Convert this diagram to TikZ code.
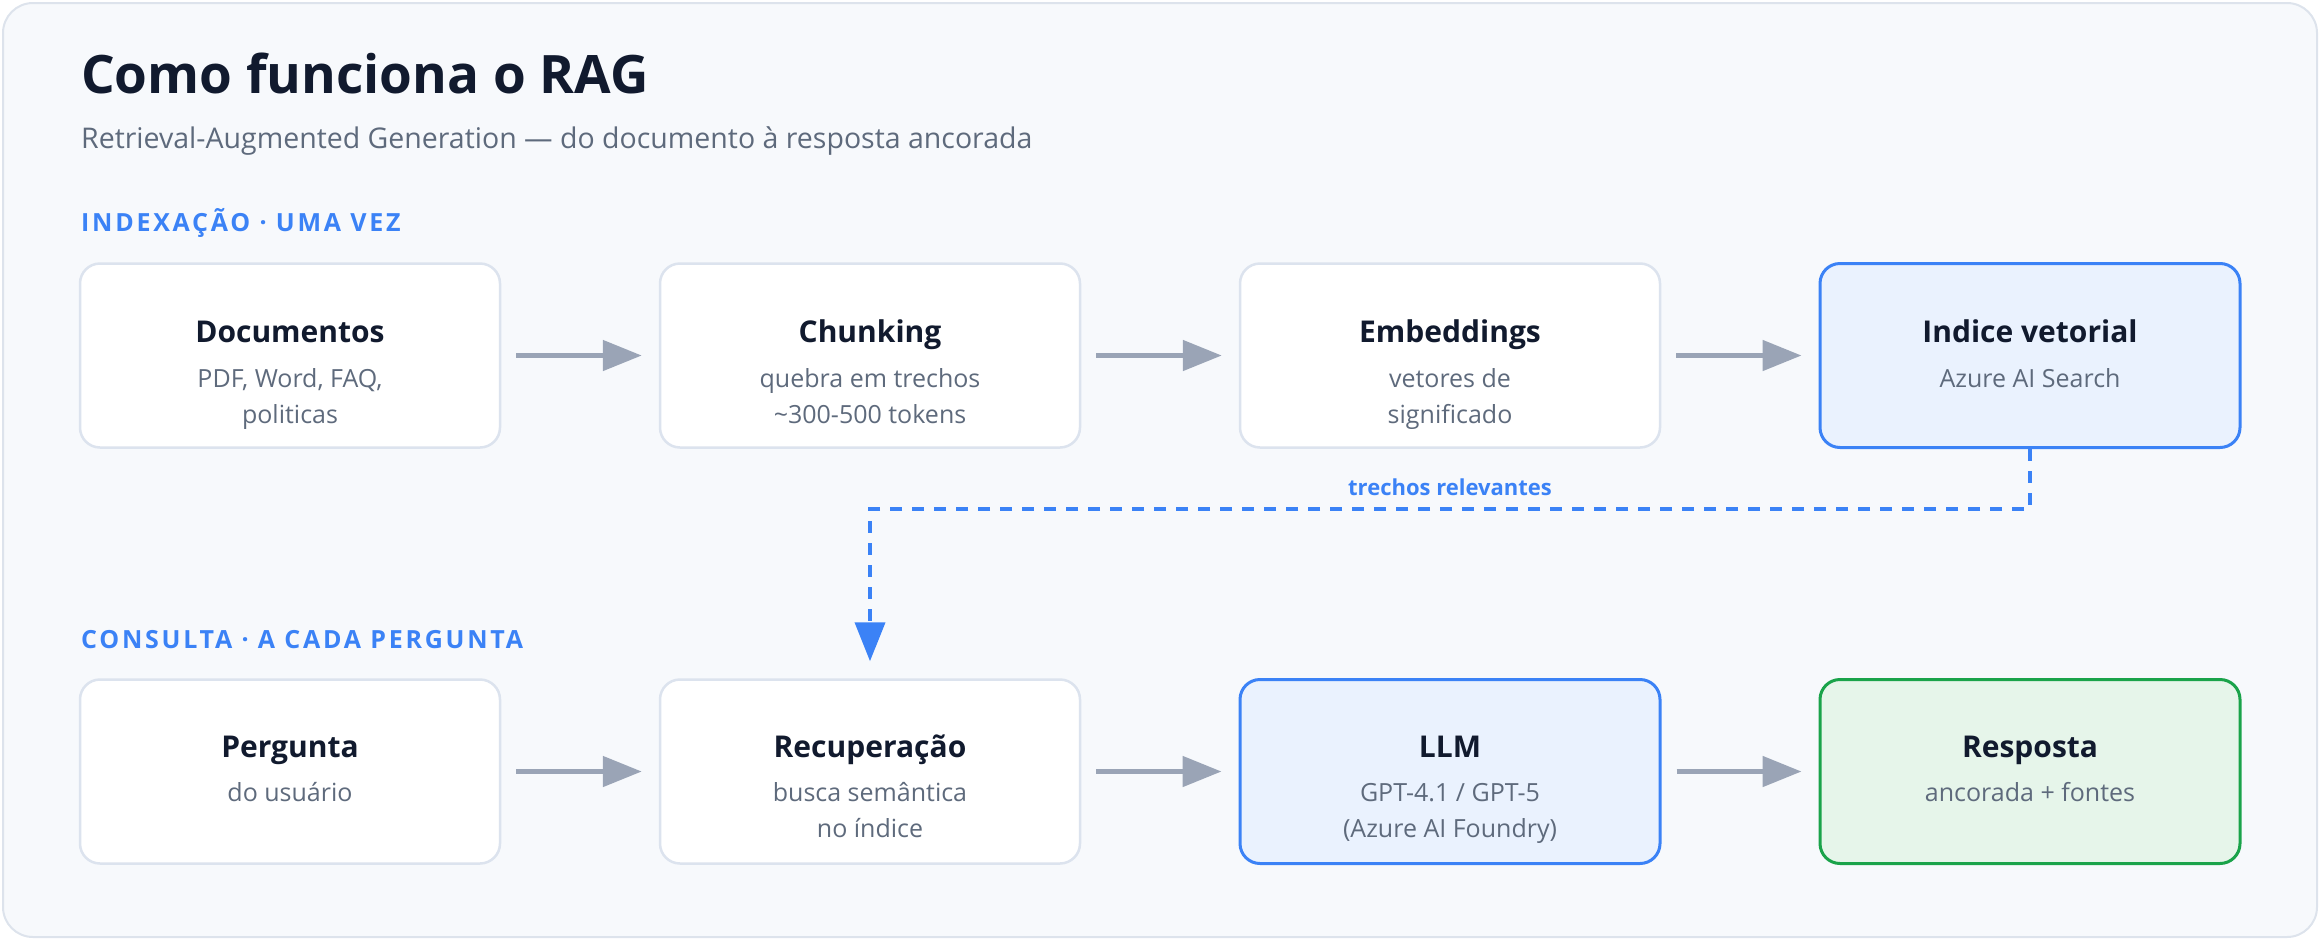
\documentclass[tikz,border=0pt]{standalone}
\usepackage{fontspec}
\setmainfont{Open Sans}
\newfontfamily\seclabelfont{Open Sans}[LetterSpace=11]
\usetikzlibrary{arrows.meta,calc}
\definecolor{panelbg}{HTML}{F7F9FC}
\definecolor{panelline}{HTML}{DDE3EC}
\definecolor{titlecol}{HTML}{111A2E}
\definecolor{subcol}{HTML}{5E6A7C}
\definecolor{accent}{HTML}{3B82F6}
\definecolor{boxline}{HTML}{DCE3EE}
\definecolor{arrowgray}{HTML}{9AA4B6}
\definecolor{bluefill}{HTML}{EAF2FE}
\definecolor{greenfill}{HTML}{E6F5EA}
\definecolor{greenline}{HTML}{1AA34A}
\tikzset{
  stagebox/.style={draw=boxline, fill=white, line width=2.5pt, rounded corners=20pt,
    minimum width=420pt, minimum height=184pt, inner sep=0pt},
  bluebox/.style={stagebox, draw=accent, fill=bluefill, line width=3pt},
  greenbox/.style={stagebox, draw=greenline, fill=greenfill, line width=3pt},
  boxtitle/.style={anchor=base, inner sep=0pt, text=titlecol, font=\fontsize{30}{34}\selectfont\bfseries},
  boxsub/.style={anchor=base, inner sep=0pt, text=subcol, font=\fontsize{25}{30}\selectfont},
  flow/.style={draw=arrowgray, line width=5pt, shorten <=15pt, shorten >=17pt,
    -{Triangle[length=39pt,width=30pt]}},
  retr/.style={draw=accent, line width=4pt, dash pattern=on 12pt off 10pt, shorten >=17pt,
    -{Triangle[length=39pt,width=30pt]}},
  seclabel/.style={anchor=base west, inner sep=0pt, text=accent, font=\seclabelfont\fontsize{25}{30}\selectfont\bfseries},
}
\begin{document}
\begin{tikzpicture}[x=1pt,y=-1pt]
\useasboundingbox (0,0) rectangle (2320,940);
\node[draw=panelline, fill=panelbg, line width=2pt, rounded corners=30pt, inner sep=0pt,
  minimum width=2314pt, minimum height=934pt] (panel) at (1160,470) {};

\node[anchor=base west, inner sep=0pt, text=titlecol, font=\fontsize{53}{60}\selectfont\bfseries] (title) at (81,93) {Como funciona o RAG};
\node[anchor=base west, inner sep=0pt, text=subcol, font=\fontsize{28.5}{34}\selectfont] (subtitle) at (81,148) {Retrieval-Augmented Generation — do documento à resposta ancorada};

\node[seclabel] (sec1) at (81,231) {INDEXAÇÃO · UMA VEZ};
\node[seclabel] (sec2) at (81,648) {CONSULTA · A CADA PERGUNTA};

% Row 1
\node[stagebox] (doc) at (290,355.5) {};
\node[stagebox] (chunk) at (870,355.5) {};
\node[stagebox] (emb) at (1450,355.5) {};
\node[bluebox] (idx) at (2030,355.5) {};
% Row 2
\node[stagebox] (perg) at (290,771.5) {};
\node[stagebox] (rec) at (870,771.5) {};
\node[bluebox] (llm) at (1450,771.5) {};
\node[greenbox] (resp) at (2030,771.5) {};

% Row 1 texts
\node[boxtitle] (doc-t) at ($(doc.north)+(0,80)$) {Documentos};
\node[boxsub] (doc-s1) at ($(doc.north)+(0,125)$) {PDF, Word, FAQ,};
\node[boxsub] (doc-s2) at ($(doc.north)+(0,161)$) {politicas};
\node[boxtitle] (chunk-t) at ($(chunk.north)+(0,80)$) {Chunking};
\node[boxsub] (chunk-s1) at ($(chunk.north)+(0,125)$) {quebra em trechos};
\node[boxsub] (chunk-s2) at ($(chunk.north)+(0,161)$) {\textasciitilde300-500 tokens};
\node[boxtitle] (emb-t) at ($(emb.north)+(0,80)$) {Embeddings};
\node[boxsub] (emb-s1) at ($(emb.north)+(0,125)$) {vetores de};
\node[boxsub] (emb-s2) at ($(emb.north)+(0,161)$) {significado};
\node[boxtitle] (idx-t) at ($(idx.north)+(0,80)$) {Indice vetorial};
\node[boxsub] (idx-s1) at ($(idx.north)+(0,125)$) {Azure AI Search};
% Row 2 texts
\node[boxtitle] (perg-t) at ($(perg.north)+(0,79)$) {Pergunta};
\node[boxsub] (perg-s1) at ($(perg.north)+(0,123)$) {do usuário};
\node[boxtitle] (rec-t) at ($(rec.north)+(0,79)$) {Recuperação};
\node[boxsub] (rec-s1) at ($(rec.north)+(0,123)$) {busca semântica};
\node[boxsub] (rec-s2) at ($(rec.north)+(0,159)$) {no índice};
\node[boxtitle] (llm-t) at ($(llm.north)+(0,79)$) {LLM};
\node[boxsub] (llm-s1) at ($(llm.north)+(0,123)$) {GPT-4.1 / GPT-5};
\node[boxsub] (llm-s2) at ($(llm.north)+(0,159)$) {(Azure AI Foundry)};
\node[boxtitle] (resp-t) at ($(resp.north)+(0,79)$) {Resposta};
\node[boxsub] (resp-s1) at ($(resp.north)+(0,123)$) {ancorada + fontes};

% Flow arrows
\draw[flow] (doc) -- (chunk);
\draw[flow] (chunk) -- (emb);
\draw[flow] (emb) -- (idx);
\draw[flow] (perg) -- (rec);
\draw[flow] (rec) -- (llm);
\draw[flow] (llm) -- (resp);

% Retrieval connector
\draw[retr] (idx.south) -- ++(0,60) -| (rec.north);
\node[anchor=base, inner sep=0pt, text=accent, font=\fontsize{22}{26}\selectfont\bfseries] (lbl) at (1450,495) {trechos relevantes};
\end{tikzpicture}
\end{document}
